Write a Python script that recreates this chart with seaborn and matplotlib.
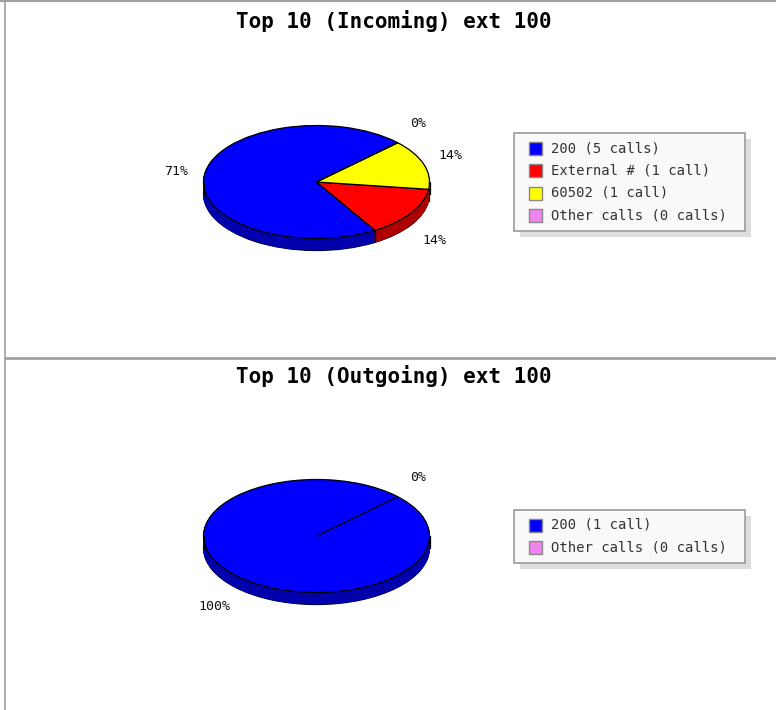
import numpy as np
import matplotlib
matplotlib.use("Agg")
import matplotlib.pyplot as plt
from matplotlib.patches import Rectangle
import matplotlib.colors as mcolors
import seaborn as sns

# ---- data ----
in_names = ["200", "External #", "60502", "Other calls"]
in_calls = [5, 1, 1, 0]
in_colors = ["#0000ff", "#ff0000", "#ffff00", "#ee82ee"]
in_title = "Top 10 (Incoming) ext 100"

out_names = ["200", "Other calls"]
out_calls = [1, 0]
out_colors = ["#0000ff", "#ee82ee"]
out_title = "Top 10 (Outgoing) ext 100"

sns.set_theme(style="white")
plt.rcParams['font.family'] = ['DejaVu Sans Mono', 'DejaVu Sans']

W, H = 776, 710
fig = plt.figure(figsize=(W / 100, H / 100), dpi=100)
bg = fig.add_axes([0, 0, 1, 1])
bg.set_xlim(0, W)
bg.set_ylim(H, 0)
bg.axis('off')

# frame lines
bg.plot([0, W], [1, 1], color='#a0a0a0', lw=1.5)
bg.plot([5, 5], [0, H], color='#a0a0a0', lw=1.2)
bg.plot([5, W], [357.5, 357.5], color='#a0a0a0', lw=2)

RX, RY, DEPTH = 113.0, 56.5, 12.0
START = 44


def darker(c, f=0.68):
    r, g, b = mcolors.to_rgb(c)
    return (r * f, g * f, b * f)


def pie3d(cx, cy, values, colors):
    ax = fig.add_axes([0, 0, 1, 1])
    ax.patch.set_alpha(0)
    D = DEPTH / RY
    side = [darker(c) for c in colors]
    # bottom outline
    ax.pie(values, colors=side, startangle=START, counterclock=True,
           center=(0, -D), wedgeprops=dict(edgecolor='black', linewidth=0.9))
    # side fill
    for t in np.linspace(D, 0, 30)[1:-1]:
        ws, _ = ax.pie(values, colors=side, startangle=START, counterclock=True,
                       center=(0, -t), wedgeprops=dict(linewidth=0.6))
        for w, v in zip(ws, values):
            w.set_edgecolor(w.get_facecolor())
            if v == 0:
                w.set_visible(False)
    # top face
    wedges, _ = ax.pie(values, colors=colors, startangle=START, counterclock=True,
                       center=(0, 0), wedgeprops=dict(edgecolor='black', linewidth=0.9))
    # side seams
    for x in (-1, 1):
        ax.plot([x, x], [0, -D], color='black', lw=0.9)
    for w in wedges:
        a = np.deg2rad(w.theta1)
        if np.sin(a) < 0:
            ax.plot([np.cos(a)] * 2, [np.sin(a), np.sin(a) - D], color='black', lw=0.9)
    # labels
    total = sum(values)
    for w, v in zip(wedges, values):
        mid = np.deg2rad((w.theta1 + w.theta2) / 2)
        lx = 1.25 * np.cos(mid)
        ly = 1.5 * np.sin(mid)
        if ly < 0:
            ly -= D
        ax.text(lx, ly, f"{round(100 * v / total)}%", ha='center', va='center',
                fontsize=9.5, color='#111111')
    ax.set_aspect('auto')
    ax.set_xlim(-cx / RX, (W - cx) / RX)
    ax.set_ylim((cy - H) / RY, cy / RY)
    ax.axis('off')


def legend(x0, y0, names, calls, colors):
    n = len(names)
    h = 30 + (n - 1) * 22.5
    w = 231
    bg.add_patch(Rectangle((x0 + 6, y0 + 6), w, h, fc='#dddddd', ec='none'))
    bg.add_patch(Rectangle((x0, y0), w, h, fc='#f9f9f9', ec='#9a9a9a', lw=1.2))
    for i, (nm, c, col) in enumerate(zip(names, calls, colors)):
        y = y0 + 15 + i * 22.5
        bg.add_patch(Rectangle((529, y - 6.5), 13, 13, fc=col, ec='#888888', lw=1))
        lab = f"{nm} ({c} call{'' if c == 1 else 's'})"
        bg.text(551, y, lab, ha='left', va='center', fontsize=10, color='#333333')


bg.text(394, 21, in_title, ha='center', va='center', fontsize=15, fontweight='bold', color='black')
bg.text(394, 376, out_title, ha='center', va='center', fontsize=15, fontweight='bold', color='black')

pie3d(316.5, 182, in_calls, in_colors)
pie3d(316.5, 536, out_calls, out_colors)

legend(514, 133, in_names, in_calls, in_colors)
legend(514, 510, out_names, out_calls, out_colors)

fig.savefig("out.png", dpi=100, facecolor='white')
